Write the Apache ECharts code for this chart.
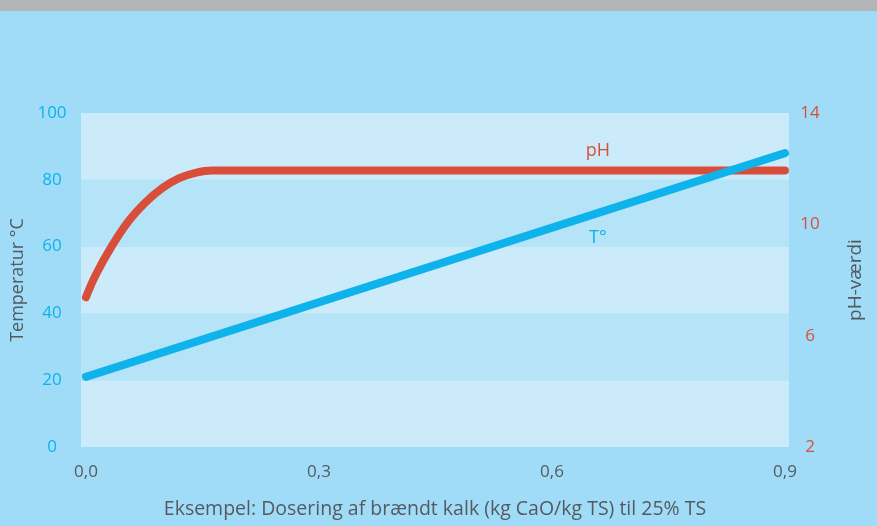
<!DOCTYPE html>
<html>
<head>
<meta charset="utf-8">
<script src="https://cdn.jsdelivr.net/npm/echarts@6/dist/echarts.min.js"></script>
<style>html,body{margin:0;padding:0;background:#a0dcf7;}#c{width:877px;height:526px;}</style>
</head>
<body>
<div id="c"></div>
<script>
// Data
var xTicks = [0, 0.3, 0.6, 0.9];
var tempX = [0, 0.9];
var tempY = [21, 88];
var phX = [0, 0.0125, 0.034, 0.055, 0.077, 0.098, 0.120, 0.141, 0.163, 0.9];
var phY = [7.38, 8.18, 9.25, 10.12, 10.80, 11.30, 11.66, 11.85, 11.93, 11.93];
var tempLabel = 'T°';
var phLabel = 'pH';
var xName = 'Eksempel: Dosering af brændt kalk (kg CaO/kg TS) til 25% TS';
var yLeftName = 'Temperatur °C';
var yRightName = 'pH-værdi';

var FONT = 'Open Sans';
var GREY = '#545a60';
var BLUE = '#0db3ea';
var RED = '#d94e3b';

var chart = echarts.init(document.getElementById('c'));
chart.setOption({
  backgroundColor: '#a0dcf7',
  animation: false,
  graphic: [{type: 'rect', left: 0, top: 0, shape: {width: 877, height: 11}, style: {fill: '#b4b5b8'}}],
  grid: {left: 81, right: 88, top: 113, bottom: 79},
  xAxis: {
    type: 'value', min: -0.0064, max: 0.9052,
    axisLine: {show: false}, axisTick: {show: false}, splitLine: {show: false},
    axisLabel: {customValues: xTicks, margin: 17, color: GREY, fontFamily: FONT, fontSize: 17,
      formatter: function (v) { return v.toFixed(1).replace('.', ','); }},
    name: xName, nameLocation: 'middle', nameGap: 52,
    nameTextStyle: {color: GREY, fontFamily: FONT, fontSize: 19.5}
  },
  yAxis: [{
    type: 'value', min: 0, max: 100, interval: 20,
    axisLine: {show: false}, axisTick: {show: false}, splitLine: {show: false},
    splitArea: {show: true, areaStyle: {color: ['#cbeafa', '#b5e3f7']}},
    axisLabel: {margin: 29, align: 'center', color: BLUE, fontFamily: FONT, fontSize: 17},
    name: yLeftName, nameLocation: 'middle', nameGap: 48, nameRotate: 90,
    nameTextStyle: {color: GREY, fontFamily: FONT, fontSize: 18}
  }, {
    type: 'value', min: 2, max: 14, interval: 4, position: 'right',
    axisLine: {show: false}, axisTick: {show: false}, splitLine: {show: false},
    axisLabel: {margin: 21, align: 'center', color: RED, fontFamily: FONT, fontSize: 17},
    name: yRightName, nameLocation: 'middle', nameGap: 57, nameRotate: 90,
    nameTextStyle: {color: GREY, fontFamily: FONT, fontSize: 19}
  }],
  series: [{
    type: 'line', yAxisIndex: 1, showSymbol: false, smooth: 0.35,
    data: phX.map(function (x, i) { return [x, phY[i]]; }),
    lineStyle: {color: RED, width: 8, cap: 'round', join: 'round'},
    markPoint: {symbol: 'circle', symbolSize: 0, data: [{coord: [0.659, 12.65], value: phLabel}],
      label: {show: true, formatter: phLabel, color: RED, fontFamily: FONT, fontSize: 18}}
  }, {
    type: 'line', yAxisIndex: 0, showSymbol: false,
    data: tempX.map(function (x, i) { return [x, tempY[i]]; }),
    lineStyle: {color: BLUE, width: 8, cap: 'round'},
    markPoint: {symbol: 'circle', symbolSize: 0, data: [{coord: [0.659, 62.7], value: tempLabel}],
      label: {show: true, formatter: tempLabel, color: BLUE, fontFamily: FONT, fontSize: 18}}
  }]
});
</script>
</body>
</html>
